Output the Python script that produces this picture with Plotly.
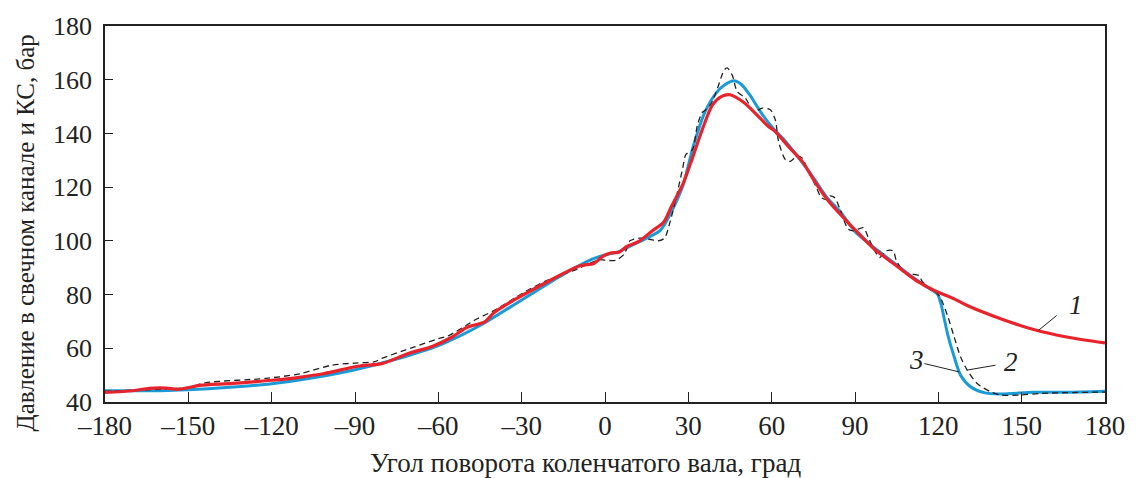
import plotly.graph_objects as go

# Curve 1: calculated pressure (red)
x1 = [-180, -170, -164, -158, -154, -150, -146, -134, -120, -110, -101, -89, -80, -71, -62, -55,
      -49.5, -43.5, -40, -33, -21, -9, -4, -1, 2, 5, 8, 12, 17, 21, 24, 28, 31.5, 35, 38.7, 42, 45,
      50, 56, 59, 61.3, 66, 71, 75.6, 80.3, 86.4, 92, 97, 102, 108, 113, 118.5, 125.7, 130.4,
      142.4, 154.3, 166.2, 180]
y1 = [43.6, 44.2, 45.1, 45.2, 44.7, 45.3, 46.2, 46.9, 48.1, 49.2, 50.6, 53.3, 54.4, 58, 60.8, 64.2,
      67.9, 69.7, 73.2, 77.8, 84.6, 90.7, 91.6, 94.1, 95.5, 95.8, 98, 99.7, 103.7, 106.8, 113, 121,
      130.9, 141.4, 150.6, 153.8, 154.4, 151.5, 145.5, 142.5, 140.7, 135.2, 129.6, 122, 115, 108,
      102, 96.9, 93, 88.3, 84.6, 81.5, 78.4, 75.9, 71, 67, 64.2, 62]

# Curve 2: measured pressure (black dashed)
x2 = [-180, -165, -150, -143.6, -122, -110, -98.4, -90, -82.9, -80.5, -68.6, -60, -56.7, -46, -40,
      -28, -21, -10, -2, 0, 4, 7, 9, 12.4, 16, 19, 21.4, 23.2, 25.6, 28, 29.1, 31.5, 33.3, 35, 36.3,
      38.2, 40.5, 42.9, 44, 45.8, 47.6, 50.6, 53.6, 56.6, 59.5, 61.3, 62.5, 64.9, 66.7, 69.1, 70.9,
      73.2, 75.6, 78, 80.3, 81, 82.8, 84.6, 87.6, 89.4, 93, 94.8, 97.1, 98.9, 101.3, 103.7, 104.9,
      107.8, 110.2, 113.2, 114, 117, 119.5, 120.9, 123.3, 125.7, 128, 130.4, 134, 138.8, 142.4,
      149.6, 156.7, 180]
y2 = [44, 44.5, 45.5, 47.2, 48.8, 50.5, 53.7, 54.5, 55, 56.2, 60.5, 63.6, 64.5, 71, 74, 81.5, 85.2,
      89.5, 93, 92.8, 92.8, 95.2, 100, 101, 100.6, 100, 101, 106.2, 116, 127.2, 132.1, 134, 143.2,
      147.8, 148.8, 151, 156.8, 163.6, 164.4, 161.7, 155.6, 153.1, 148.1, 149.4, 148.8, 145.1, 137,
      130.3, 129.6, 131.5, 130.9, 125.9, 121, 116, 115.4, 116.7, 116, 111.7, 104.3, 103.7, 104.9,
      101.2, 96.3, 93.8, 96.3, 96.3, 92.6, 88.3, 87.7, 87, 85.2, 82, 80.5, 78.5, 72.2, 64.2, 56.8,
      51.9, 46.9, 43.8, 42.6, 42.6, 43.2, 43.7]

# Curve 3: smoothed measured pressure (blue)
x3 = [-180, -165, -150, -135, -120, -105, -90, -75, -60, -45, -30, -15, -5, 0, 5, 10, 15, 20, 24, 28,
      32, 36, 40, 43, 46.4, 49, 52, 56, 60, 65, 70, 75, 80, 85, 90, 95, 100, 105, 110, 115, 118,
      119.7, 120.9, 123.3, 125.7, 128, 131.6, 136.4, 142.4, 154.3, 166, 180]
y3 = [44.2, 44.2, 44.6, 45.5, 46.8, 49, 52, 56, 61, 68.5, 78, 87.5, 93, 94.8, 96, 98.5, 101, 104, 111,
      120.5, 136, 148, 155, 158, 159.6, 158.3, 154.5, 148, 142.5, 137, 130.5, 123.5, 116, 110.5,
      103.5, 99, 95, 91, 87, 83.5, 81.5, 80.2, 76.7, 65.5, 56.8, 50, 45.7, 43.5, 43, 43.6, 43.6, 44]

x_ticks = [-180, -150, -120, -90, -60, -30, 0, 30, 60, 90, 120, 150, 180]
x_ticktext = ["–180", "–150", "–120", "–90", "–60", "–30", "0", "30", "60", "90", "120", "150", "180"]
y_ticks = [40, 60, 80, 100, 120, 140, 160, 180]

# curve labels: text, text position, leader line start/end
labels = [
    ("1", 169.5, 76.0, 156.1, 66.7, 162.6, 72.2),
    ("2", 146.0, 54.8, 130.4, 51.9, 140.6, 53.7),
    ("3", 112.2, 55.8, 115.0, 54.3, 127.5, 51.2),
]

RED = "#e8232b"
BLUE = "#1b9ad8"
FONT = "Liberation Serif"

fig = go.Figure()
fig.add_trace(go.Scatter(x=x3, y=y3, mode="lines", line=dict(color=BLUE, width=3, shape="spline", smoothing=0.8),
                         showlegend=False, hoverinfo="skip"))
fig.add_trace(go.Scatter(x=x2, y=y2, mode="lines", line=dict(color="#222222", width=1.3, dash="6px,4px",
                                                            shape="spline", smoothing=0.8),
                         showlegend=False, hoverinfo="skip"))
fig.add_trace(go.Scatter(x=x1, y=y1, mode="lines", line=dict(color=RED, width=3.2, shape="spline", smoothing=0.8),
                         showlegend=False, hoverinfo="skip"))

for txt, tx, ty, lx0, ly0, lx1, ly1 in labels:
    fig.add_shape(type="line", x0=lx0, y0=ly0, x1=lx1, y1=ly1, line=dict(color="#222222", width=1))
    fig.add_annotation(x=tx, y=ty, text="<i>" + txt + "</i>", showarrow=False,
                       font=dict(family=FONT, size=27, color="#222222"))

fig.add_annotation(xref="paper", yref="paper", x=0.48, y=-0.162, text="Угол поворота коленчатого вала, град",
                   showarrow=False, font=dict(family=FONT, size=27, color="#222222"), yanchor="middle")
fig.add_annotation(xref="paper", yref="paper", x=-0.0794, y=0.45, text="Давление в свечном канале и КС, бар",
                   showarrow=False, textangle=-90, font=dict(family=FONT, size=25, color="#222222"),
                   xanchor="center", yanchor="middle")

fig.update_xaxes(range=[-180, 180], tickvals=x_ticks, ticktext=x_ticktext, ticks="inside", ticklen=10,
                 tickwidth=1.3, tickcolor="#222222", showline=True, linecolor="#222222", linewidth=1.5,
                 mirror=True, showgrid=False, zeroline=False, ticklabelstandoff=-1,
                 tickfont=dict(family=FONT, size=27, color="#222222"))
fig.update_yaxes(range=[40, 180], tickvals=y_ticks, ticks="inside", ticklen=8,
                 tickwidth=1.3, tickcolor="#222222", showline=True, linecolor="#222222", linewidth=1.5,
                 mirror=True, showgrid=False, zeroline=False, ticklabelstandoff=6,
                 tickfont=dict(family=FONT, size=26, color="#222222"))

fig.update_layout(width=1137, height=478, margin=dict(l=105, r=25, t=24, b=76),
                  plot_bgcolor="white", paper_bgcolor="white")

fig.write_html("out.html")
